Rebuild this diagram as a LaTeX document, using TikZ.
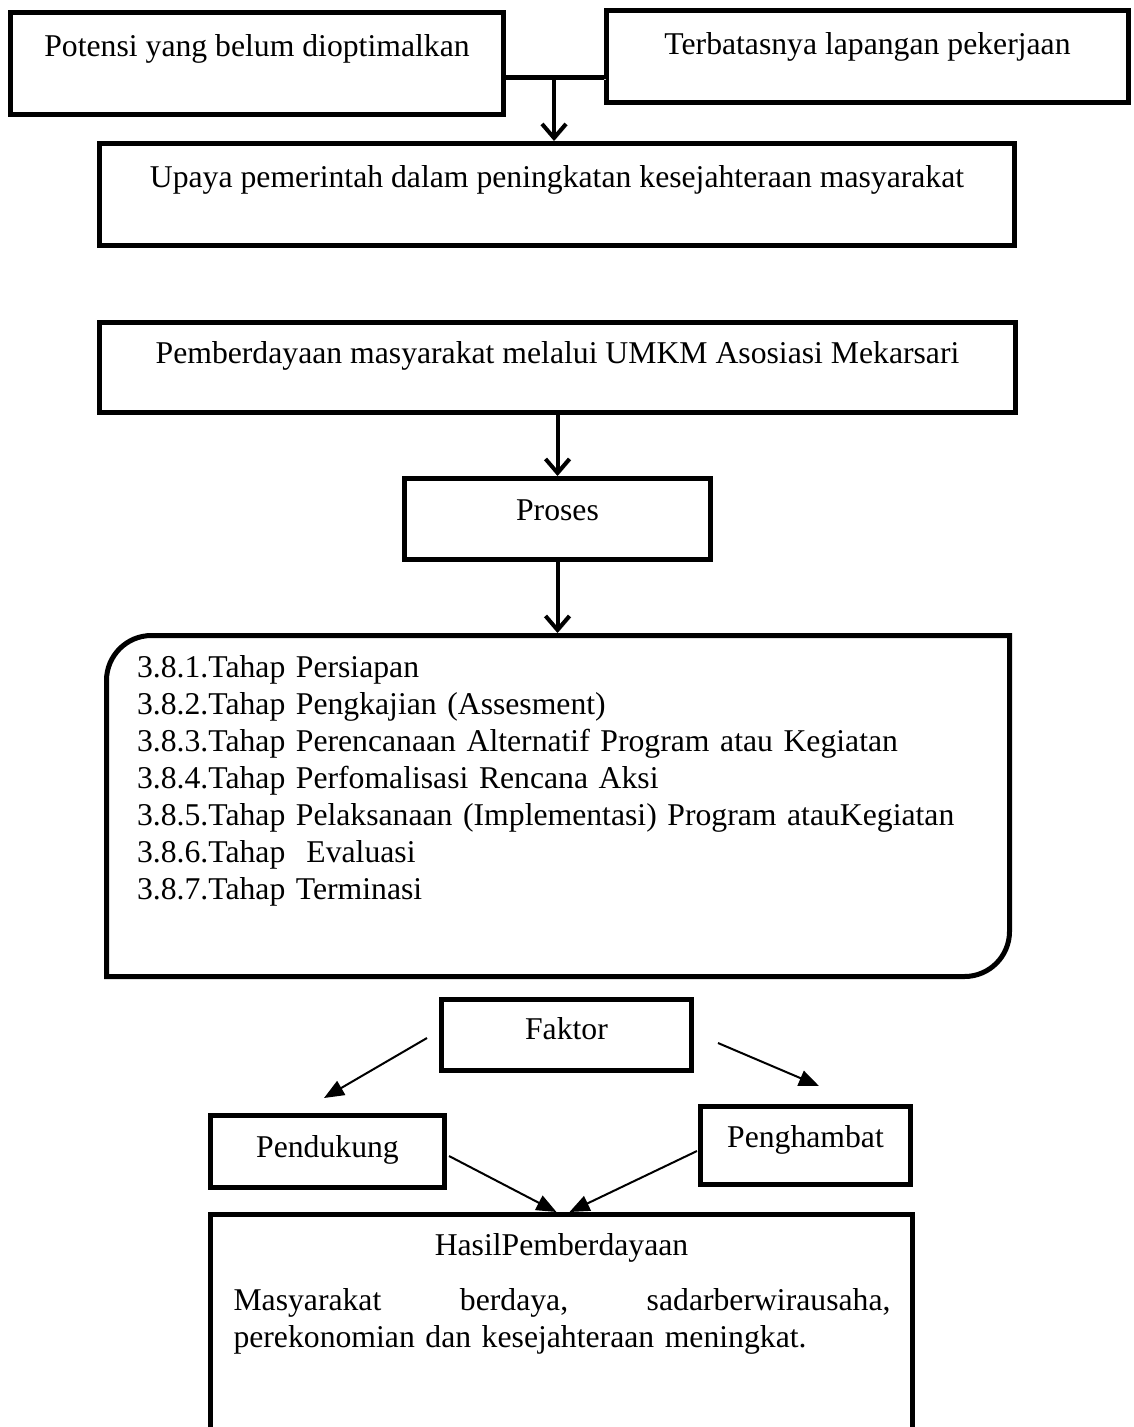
\documentclass[tikz,border=0pt]{standalone}
\usepackage{fontspec}
\setmainfont{Liberation Serif}
\usetikzlibrary{arrows.meta}
\newcommand{\dgfont}{\fontsize{31.7pt}{37pt}\selectfont}
\begin{document}
\begin{tikzpicture}[x=1pt,y=1pt,
  box/.style={draw, line width=5pt, inner xsep=0pt, inner ysep=0pt, anchor=base, font=\dgfont},
  shadowed/.style={preaction={draw=gray!55, transform canvas={xshift=1.5pt,yshift=-1.5pt}}},
  conn/.style={line width=5pt, shadowed},
  heavy/.style={line width=4pt, -{Straight Barb[length=14pt,width=24pt]}, shadowed},
  light/.style={line width=2pt, -{Triangle[length=20pt,width=16pt]}},
  plain/.style={inner sep=0pt, outer sep=0pt, font=\dgfont}
]
\useasboundingbox (0,0) rectangle (1133,-1427);
\clip (0,0) rectangle (1133,-1427);

% top boxes
\node[box, minimum width=493pt, text height=43.5pt, text depth=58.5pt] (b1) at (257,-56) {Potensi yang belum dioptimalkan};
\node[box, minimum width=522pt, text height=43.5pt, text depth=48.5pt] (b2) at (867.5,-54) {Terbatasnya lapangan pekerjaan};
\node[box, minimum width=915pt, text height=43.5pt, text depth=58.5pt] (b3) at (557,-187) {Upaya pemerintah dalam peningkatan kesejahteraan masyarakat};
\node[box, minimum width=916pt, text height=40.5pt, text depth=49.5pt] (b4) at (557.5,-363) {Pemberdayaan masyarakat melalui UMKM Asosiasi Mekarsari};
\node[box, minimum width=306pt, text height=41.5pt, text depth=39.5pt] (proses) at (557.5,-520) {Proses};

% rounded frame with stages
\node[plain, minimum width=903pt, minimum height=341pt] (rbox) at (558,-806) {};
\draw[line width=5pt] ([xshift=45pt]rbox.north west) -- (rbox.north east)
  -- ([yshift=45pt]rbox.south east) arc[start angle=0, end angle=-90, radius=45pt]
  -- (rbox.south west) -- ([yshift=-45pt]rbox.north west)
  arc[start angle=180, end angle=90, radius=45pt] -- cycle;
\node[plain, anchor=base west, text width=860pt, align=left] (tahap) at (137,-677) {%
3.8.1.Tahap Persiapan\\
3.8.2.Tahap Pengkajian (Assesment)\\
3.8.3.Tahap Perencanaan Alternatif Program atau Kegiatan\\
3.8.4.Tahap Perfomalisasi Rencana Aksi\\
3.8.5.Tahap Pelaksanaan (Implementasi) Program atauKegiatan\\
3.8.6.Tahap\ \ Evaluasi\\
3.8.7.Tahap Terminasi};

% lower boxes
\node[box, minimum width=250pt, text height=39.5pt, text depth=31.5pt] (faktor) at (566.5,-1039) {Faktor};
\node[box, minimum width=234pt, text height=41.5pt, text depth=30.5pt] (pend) at (327.5,-1157) {Pendukung};
\node[box, minimum width=210pt, text height=40.5pt, text depth=37.5pt] (pengh) at (805.5,-1147) {Penghambat};
\node[box, minimum width=702pt, text height=40.5pt, text depth=200pt] (hasil) at (561.5,-1255) {HasilPemberdayaan};
\node[plain, anchor=base west, text width=657pt, align=left] (hasiltext) at (233.5,-1310) {%
Masyarakat\hfill berdaya,\hfill sadarberwirausaha,\\
perekonomian dan kesejahteraan meningkat.};

% connectors
\coordinate (j) at (554,-77.5);
\draw[conn] (b1.east |- j) -- (b2.west |- j);
\draw[heavy] (j) -- (j |- b3.north);
\draw[heavy] (b4.south) -- (proses.north);
\draw[heavy, shorten >=2.5pt] (proses.south) -- (proses.south |- rbox.north);

\draw[light] ([xshift=-12pt,yshift=-3pt]faktor.west) -- ([xshift=-3.5pt,yshift=15pt]pend.north);
\draw[light] ([xshift=24pt,yshift=-8pt]faktor.east) -- ([xshift=13.5pt,yshift=18pt]pengh.north);
\draw[light] ([xshift=2pt,yshift=-4.5pt]pend.east) -- ([xshift=-5pt]hasil.north);
\draw[light] ([xshift=-1pt,yshift=-5.5pt]pengh.west) -- ([xshift=8pt]hasil.north);
\end{tikzpicture}
\end{document}
